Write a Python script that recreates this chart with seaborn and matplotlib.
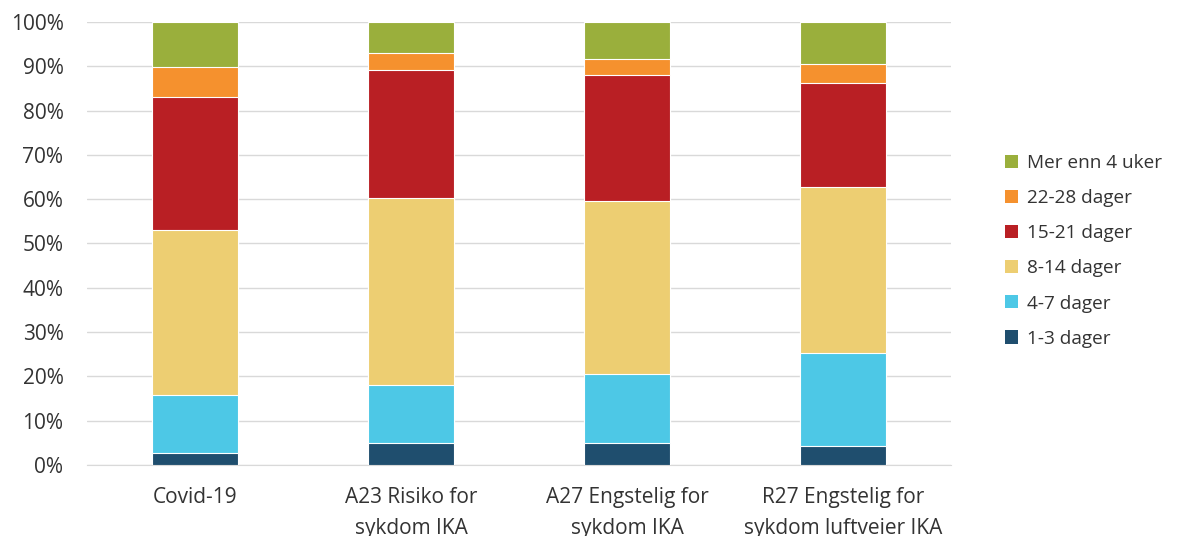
import matplotlib
matplotlib.use("Agg")
import matplotlib.pyplot as plt
import numpy as np
import pandas as pd
import seaborn as sns
from matplotlib.patches import Patch
from matplotlib.ticker import PercentFormatter

categories = [
    "Covid-19",
    "A23 Risiko for\nsykdom IKA",
    "A27 Engstelig for\nsykdom IKA",
    "R27 Engstelig for\nsykdom luftveier IKA",
]
series = ["1-3 dager", "4-7 dager", "8-14 dager", "15-21 dager", "22-28 dager", "Mer enn 4 uker"]
colors = ["#1F4E6E", "#4DC8E6", "#EDCE72", "#B91F24", "#F5912E", "#9AAF3C"]

# share (%) per category, one list per series
d_1_3 = [2.7, 5.0, 5.0, 4.3]
d_4_7 = [13.1, 13.1, 15.5, 21.0]
d_8_14 = [37.2, 42.2, 39.1, 37.5]
d_15_21 = [30.1, 28.9, 28.4, 23.4]
d_22_28 = [6.7, 3.8, 3.6, 4.3]
d_4w = [10.2, 7.0, 8.4, 9.5]

values = np.array([d_1_3, d_4_7, d_8_14, d_15_21, d_22_28, d_4w])
cum = values.cumsum(axis=0)
df = pd.DataFrame(cum.T, columns=series)
df["cat"] = categories

sns.set_style("white")
plt.rcParams["font.family"] = ["Open Sans", "DejaVu Sans"]
text_col = "#333333"

fig = plt.figure(figsize=(11.78, 5.36), dpi=100)
ax = fig.add_axes([0.0739, 0.1325, 0.7335, 0.8265])

# draw tallest cumulative first so lower segments sit on top
for name, col in reversed(list(zip(series, colors))):
    sns.barplot(data=df, x="cat", y=name, color=col, width=0.395,
                edgecolor="white", linewidth=0.8, saturation=1, ax=ax, zorder=3)

ax.set_xlim(-0.5, 3.5)
ax.set_ylim(0, 100)
ax.set_yticks(np.arange(0, 101, 10))
ax.yaxis.set_major_formatter(PercentFormatter(decimals=0))
ax.set_xlabel("")
ax.set_ylabel("")
ax.yaxis.grid(True, color="#d9d9d9", linewidth=1, zorder=0)
ax.set_axisbelow(True)
for s in ["top", "right", "left"]:
    ax.spines[s].set_visible(False)
ax.spines["bottom"].set_color("#d9d9d9")
ax.tick_params(axis="both", length=0, labelsize=15, labelcolor=text_col)
ax.tick_params(axis="x", pad=16)
ax.tick_params(axis="y", pad=17)
for lbl in ax.get_xticklabels():
    lbl.set_linespacing(1.6)

handles = [Patch(facecolor=c, edgecolor="none") for c in colors][::-1]
fig.legend(handles, series[::-1], loc="center left", bbox_to_anchor=(0.839, 0.532),
           frameon=False, fontsize=13.7, labelcolor=text_col, handlelength=0.68,
           handleheight=0.68, handletextpad=0.45, labelspacing=0.9)

fig.savefig("out.png", dpi=100)
